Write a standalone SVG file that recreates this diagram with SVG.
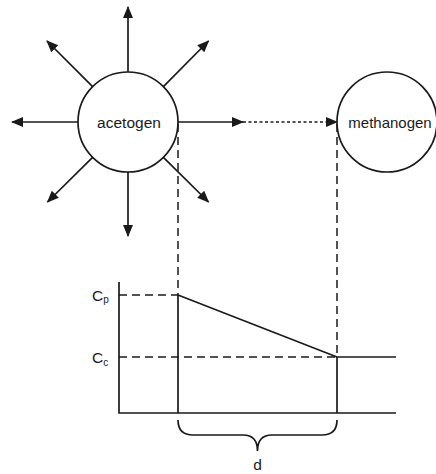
<svg xmlns="http://www.w3.org/2000/svg" width="436" height="474" viewBox="0 0 436 474">
<defs>
<marker id="ah" markerUnits="userSpaceOnUse" markerWidth="13" markerHeight="11" refX="11" refY="5" orient="auto">
<path d="M0,0 L12,5 L0,10 z" fill="#1a1a1a"/>
</marker>
<style>
.ln{stroke:#1a1a1a;stroke-width:1.7;fill:none}
.ar{stroke:#1a1a1a;stroke-width:1.7;fill:none;marker-end:url(#ah)}
.dash{stroke:#1a1a1a;stroke-width:1.5;fill:none;stroke-dasharray:8 5}
.dot{stroke:#1a1a1a;stroke-width:1.5;fill:none;stroke-dasharray:3 2.5}
.node{stroke:#1a1a1a;stroke-width:1.7;fill:#fff}
text{font-family:"Liberation Sans",Arial,sans-serif;fill:#1a1a1a}
</style>
</defs>
<rect width="436" height="474" fill="#fff"/>
<g id="connectors">
<line class="ar" x1="128" y1="72" x2="128" y2="7"/>
<line class="ar" x1="128" y1="172" x2="128" y2="236"/>
<line class="ar" x1="78" y1="122" x2="12" y2="122"/>
<line class="ar" x1="92.6" y1="86.6" x2="47" y2="41"/>
<line class="ar" x1="163.4" y1="86.6" x2="208.5" y2="41"/>
<line class="ar" x1="92.6" y1="157.4" x2="47.5" y2="202"/>
<line class="ar" x1="163.4" y1="157.4" x2="208.5" y2="202"/>
<line class="ar" x1="178" y1="122" x2="243" y2="122"/>
<line class="dot" x1="243" y1="122" x2="330" y2="122"/>
<line class="ar" x1="330" y1="122" x2="337" y2="122" style="stroke-width:0.1"/>
<line class="dash" x1="178" y1="124" x2="178" y2="295"/>
<line class="dash" x1="337" y1="124" x2="337" y2="357"/>
</g>
<g id="acetogen">
<circle class="node" cx="128" cy="122" r="50"/>
<text x="129" y="127.5" font-size="15.5" text-anchor="middle">acetogen</text>
</g>
<g id="methanogen">
<circle class="node" cx="387" cy="122" r="50"/>
<text x="390" y="127.5" font-size="15" text-anchor="middle">methanogen</text>
</g>
<g id="graph">
<polyline class="ln" points="119,282 119,413 396,413"/>
<line class="dash" x1="119" y1="295" x2="178" y2="295"/>
<line class="dash" x1="119" y1="357" x2="337" y2="357"/>
<line class="ln" x1="178" y1="295" x2="178" y2="413"/>
<line class="ln" x1="337" y1="357" x2="337" y2="413"/>
<line class="ln" x1="178" y1="295" x2="337" y2="357"/>
<line class="ln" x1="337" y1="357" x2="396" y2="357"/>
<path class="ln" d="M178,420 Q178,435 193,435 L243,435 Q257.5,435 257.5,451 Q257.5,435 272,435 L322,435 Q337,435 337,420"/>
<text x="92" y="301" font-size="15.5">C<tspan font-size="10" dy="2">p</tspan></text>
<text x="92" y="363" font-size="15.5">C<tspan font-size="10" dy="3">c</tspan></text>
<text x="257.5" y="470" font-size="15.5" text-anchor="middle">d</text>
</g>
</svg>
